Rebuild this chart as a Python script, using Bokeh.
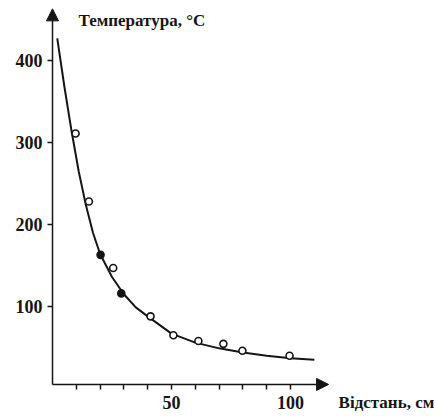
from bokeh.plotting import figure
from bokeh.models import Arrow, NormalHead, FixedTicker, Label
from bokeh.embed import file_html
from bokeh.resources import INLINE

# ---- data ----
dist_open = [9.7, 15.3, 25.5, 41.2, 50.8, 61.3, 71.8, 79.8, 99.6]
temp_open = [311, 228, 147, 88, 65, 58, 54.5, 46, 40]
dist_filled = [20.2, 28.9]
temp_filled = [163, 116]
curve_x = [2, 5, 8, 11, 14, 17, 20, 25, 30, 35, 40, 50, 60, 70, 80, 90, 100, 110]
curve_y = [427, 368, 314, 265, 224, 190, 164, 136, 115, 99, 88, 67, 56, 49, 44, 40, 37, 35]
x_ticks = [10, 20, 30, 40, 50, 60, 70, 80, 90, 100]
x_tick_labels = {50: "50", 100: "100"}
y_ticks = [100, 200, 300, 400]
y_title = "Температура, °C"
x_title = "Відстань, см"

INK = "#151515"
FONT = "Liberation Serif"

p = figure(width=439, height=416, x_range=(-21.85, 162.6), y_range=(-34.1, 473.2),
           output_backend="svg", toolbar_location=None,
           min_border_left=0, min_border_right=0, min_border_top=0, min_border_bottom=0)
p.outline_line_color = None
p.grid.visible = False
p.background_fill_color = "white"

# axes (inside the frame at the origin)
p.xaxis.fixed_location = 5
p.yaxis.fixed_location = 0
p.xaxis.bounds = (0, 116)
p.yaxis.bounds = (5, 463)
for ax in (p.xaxis, p.yaxis):
    ax.axis_line_color = None
    ax.major_tick_line_color = INK
    ax.major_tick_line_width = 1.5
    ax.major_tick_out = 5
    ax.major_tick_in = 0
    ax.minor_tick_line_color = None
    ax.major_label_text_font = FONT
    ax.major_label_text_font_style = "bold"
    ax.major_label_text_font_size = "18px"
    ax.major_label_text_color = INK
p.xaxis.ticker = FixedTicker(ticks=x_ticks)
p.xaxis.major_label_overrides = {t: x_tick_labels.get(t, "") for t in x_ticks}
p.xaxis.major_label_standoff = 7
p.yaxis.ticker = FixedTicker(ticks=y_ticks)
p.yaxis.major_label_standoff = 5

# axis lines with arrow heads
p.add_layout(Arrow(end=NormalHead(size=12, fill_color=INK, line_color=INK),
                   x_start=0, y_start=5, x_end=116, y_end=5,
                   line_color=INK, line_width=1.5))
p.add_layout(Arrow(end=NormalHead(size=12, fill_color=INK, line_color=INK),
                   x_start=0, y_start=5, x_end=0, y_end=463,
                   line_color=INK, line_width=1.5))

# fitted curve and measured points
p.line(curve_x, curve_y, line_color=INK, line_width=2)
p.scatter(dist_open, temp_open, marker="circle", size=7, fill_color="white",
          line_color=INK, line_width=1.6)
p.scatter(dist_filled, temp_filled, marker="circle", size=7, fill_color=INK,
          line_color=INK, line_width=1.6)

# axis titles
p.add_layout(Label(x=10.9, y=449, text=y_title, text_font=FONT, text_font_style="bold",
                   text_font_size="17px", text_color=INK, text_baseline="middle",
                   text_align="left"))
p.add_layout(Label(x=120.2, y=-17, text=x_title, text_font=FONT, text_font_style="bold",
                   text_font_size="17px", text_color=INK, text_baseline="middle",
                   text_align="left"))

open("out.html", "w").write(file_html(p, INLINE))
